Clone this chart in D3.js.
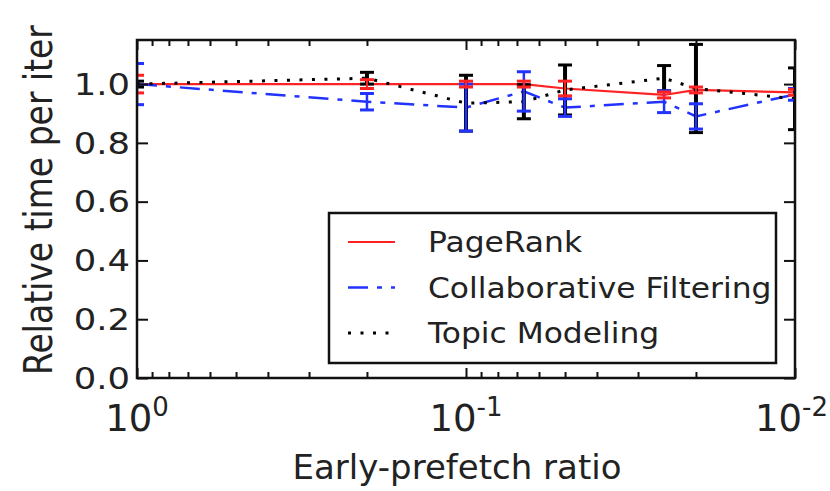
<!DOCTYPE html>
<html>
<head>
<meta charset="utf-8">
<script src="https://cdn.jsdelivr.net/npm/d3@7"></script>
<style>
body{margin:0;background:#fff;}
svg text{font-family:"DejaVu Sans",sans-serif;fill:#222;}
</style>
</head>
<body>
<svg id="chart" width="830" height="491"></svg>
<script>
//early-prefetch ratios (x) and the three workloads
var ratios = [1, 0.2, 0.1, 0.0667, 0.05, 0.025, 0.02, 0.01];
var pageRank = [1.0, 1.0, 1.0, 1.0, 0.985, 0.963, 0.98, 0.972];
var pageRankErr = [0.03, 0.015, 0.01, 0.01, 0.025, 0.01, 0.01, 0.01];
var collabFilt = [1.0, 0.94, 0.92, 0.975, 0.92, 0.94, 0.89, 0.965];
var collabFiltErr = [0.07, 0.028, 0.08, 0.067, 0.03, 0.037, 0.043, 0.02];
var topicModel = [1.0, 1.02, 0.935, 0.94, 0.98, 1.02, 0.985, 0.95];
var topicModelErr = [0.01, 0.02, 0.095, 0.058, 0.085, 0.043, 0.15, 0.105];
var yTicks = [0, 0.2, 0.4, 0.6, 0.8, 1.0];
var xMajor = [1, 0.1, 0.01];
var xMajorExp = ["0", "-1", "-2"];
var seriesNames = ["PageRank", "Collaborative Filtering", "Topic Modeling"];

(function(){
	var svg = d3.select("#chart");
	var W = 830;
	var box = {l:137, r:795, t:40, b:378};

	var x = d3.scaleLog().domain([1, 0.01]).range([box.l, box.r]);
	var y = d3.scaleLinear().domain([0, 1.15]).range([box.b, box.t]);

	//minor log ticks between decades
	var xMinor = [];
	[1, 0.1].forEach(function(dec){
		for(var k=2; k<10; k++){ xMinor.push(dec*k/10); }
	});

	svg.append("defs").append("clipPath").attr("id","plotclip")
		.append("rect").attr("x",box.l).attr("y",box.t)
		.attr("width",box.r-box.l).attr("height",box.b-box.t);

	//series styling
	var series = [
		{name:seriesNames[0], v:pageRank, e:pageRankErr, color:"#ff2222", dash:null, lw:2.2, ew:2},
		{name:seriesNames[1], v:collabFilt, e:collabFiltErr, color:"#2233ff", dash:"20,9,5,9", lw:2.5, ew:2.5},
		{name:seriesNames[2], v:topicModel, e:topicModelErr, color:"#000", dash:"3,9.5", lw:3, ew:4}
	];

	var plot = svg.append("g").attr("clip-path","url(#plotclip)");
	var line = d3.line().x(function(d){return x(d[0])}).y(function(d){return y(d[1])});

	series.forEach(function(s){
		plot.append("path")
			.datum(ratios.map(function(r,i){return [r, s.v[i]]}))
			.attr("d", line)
			.attr("fill","none")
			.attr("stroke", s.color)
			.attr("stroke-width", s.lw)
			.attr("stroke-dasharray", s.dash);
	});

	//error bars: black first, then blue, then red on top
	[series[2], series[1], series[0]].forEach(function(s){
		var g = plot.append("g").attr("stroke", s.color).attr("stroke-width", s.ew);
		ratios.forEach(function(r,i){
			var cx = x(r), lo = y(s.v[i]-s.e[i]), hi = y(s.v[i]+s.e[i]);
			g.append("line").attr("x1",cx).attr("x2",cx).attr("y1",lo).attr("y2",hi);
			[lo, hi].forEach(function(cy){
				g.append("line").attr("x1",cx-7).attr("x2",cx+7).attr("y1",cy).attr("y2",cy)
					.attr("stroke-width", 3);
			});
		});
	});

	//axes with inward ticks
	var axes = svg.append("g").attr("class","axes");
	function styleAxis(g){
		g.select(".domain").remove();
		g.selectAll("line").attr("stroke","#111").attr("stroke-width",2);
		g.selectAll("text").remove();
	}
	axes.append("g").attr("transform","translate(0,"+box.b+")")
		.call(d3.axisBottom(x).tickValues(xMajor).tickSize(-10)).call(styleAxis);
	axes.append("g").attr("transform","translate(0,"+box.b+")")
		.call(d3.axisBottom(x).tickValues(xMinor).tickSize(-6)).call(styleAxis);
	axes.append("g").attr("transform","translate(0,"+box.t+")")
		.call(d3.axisTop(x).tickValues(xMajor).tickSize(-10)).call(styleAxis);
	axes.append("g").attr("transform","translate(0,"+box.t+")")
		.call(d3.axisTop(x).tickValues(xMinor).tickSize(-6)).call(styleAxis);
	axes.append("g").attr("transform","translate("+box.l+",0)")
		.call(d3.axisLeft(y).tickValues(yTicks).tickSize(-11)).call(styleAxis);
	axes.append("g").attr("transform","translate("+box.r+",0)")
		.call(d3.axisRight(y).tickValues(yTicks).tickSize(-11)).call(styleAxis);

	svg.append("rect").attr("x",box.l).attr("y",box.t)
		.attr("width",box.r-box.l).attr("height",box.b-box.t)
		.attr("fill","none").attr("stroke","#111").attr("stroke-width",2.5);

	//y tick labels (slightly wide, as in the source image)
	svg.append("g").selectAll("text").data(yTicks).join("text")
		.attr("transform", function(d){return "translate("+(box.l-7)+","+y(d)+") scale(1.18,1)"})
		.attr("dy","0.36em").attr("text-anchor","end")
		.style("font-size","30px")
		.text(function(d){return d.toFixed(1)});

	//x tick labels 10^n, kept inside the page at the right edge
	var xl = svg.append("g").selectAll("text").data(xMajor).join("text")
		.attr("x", function(d){return x(d)}).attr("y", 431)
		.attr("text-anchor","middle")
		.style("font-size","37px");
	xl.append("tspan").text("10");
	xl.append("tspan").attr("dy","-15").style("font-size","26px")
		.text(function(d,i){return xMajorExp[i]});
	xl.each(function(d){
		var w = this.getComputedTextLength();
		var over = x(d) + w/2 - (W-2);
		if(over > 0){ d3.select(this).attr("x", x(d)-over); }
	});

	//axis titles
	svg.append("text").attr("x",457).attr("y",479)
		.attr("text-anchor","middle").style("font-size","34px")
		.text("Early-prefetch ratio");
	svg.append("text")
		.attr("transform","translate(52,"+200+") rotate(-90) scale(1,1.2)")
		.attr("text-anchor","middle").style("font-size","33px")
		.text("Relative time per iter");

	//legend
	var lg = svg.append("g");
	lg.append("rect").attr("x",329).attr("y",213).attr("width",447).attr("height",150)
		.attr("fill","#fff").attr("stroke","#111").attr("stroke-width",2.5);
	series.forEach(function(s,i){
		var ly = 242 + i*45.5;
		lg.append("line").attr("x1",348).attr("x2",395).attr("y1",ly).attr("y2",ly)
			.attr("stroke", s.color).attr("stroke-width", s.lw)
			.attr("stroke-dasharray", s.dash);
		lg.append("text")
			.attr("transform","translate(428,"+ly+") scale(1.08,1)")
			.attr("dy","0.36em")
			.style("font-size","29px").text(s.name);
	});
})();
</script>
</body>
</html>
